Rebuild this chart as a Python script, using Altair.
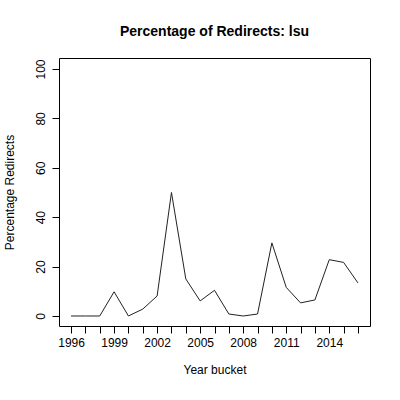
import altair as alt
import pandas as pd

years = list(range(1996, 2017))
pct = [0, 0, 0, 9.8, 0, 2.8, 8.1, 50, 15, 6.1, 10.4, 0.8, 0, 0.8, 29.6, 11.6, 5.3, 6.5, 22.8, 21.7, 13.4]

df = pd.DataFrame({"year": years, "pct": pct})

FONT = "Liberation Sans"

chart = alt.Chart(df).mark_line(color="#222222", strokeWidth=1).encode(
    x=alt.X("year:Q",
            scale=alt.Scale(domain=[1995.16, 2016.84], nice=False, zero=False),
            axis=alt.Axis(title="Year bucket", values=years,
                          labelExpr="((datum.value - 1996) % 3 == 0 && datum.value <= 2014) ? datum.value : ''",
                          domain=False, grid=False, tickSize=7, tickColor="black",
                          labelFontSize=12, labelFont=FONT, labelColor="black",
                          labelPadding=4, labelFlush=False,
                          titleFontSize=12, titleFont=FONT, titleFontWeight="normal",
                          titleColor="black", titlePadding=16)),
    y=alt.Y("pct:Q",
            scale=alt.Scale(domain=[-4.05, 104.45], nice=False, zero=False),
            axis=alt.Axis(title="Percentage Redirects", values=[0, 20, 40, 60, 80, 100],
                          format="d", domain=False, grid=False, tickSize=7, tickColor="black",
                          labelAngle=270, labelAlign="center", labelBaseline="bottom",
                          labelFontSize=12, labelFont=FONT, labelColor="black",
                          labelPadding=5, labelFlush=False,
                          titleFontSize=12, titleFont=FONT, titleFontWeight="normal",
                          titleColor="black", titlePadding=18)),
).properties(
    width=311, height=268,
    background="white",
    title=alt.TitleParams("Percentage of Redirects: lsu", fontSize=14, font=FONT,
                          fontWeight="bold", color="black", anchor="middle", offset=19),
    autosize=alt.AutoSizeParams(type="none"),
    padding={"left": 59, "top": 58, "right": 30, "bottom": 74},
).configure_view(stroke="black", strokeWidth=1)

chart.save("out.html", embed_options={"renderer": "svg", "actions": False})
